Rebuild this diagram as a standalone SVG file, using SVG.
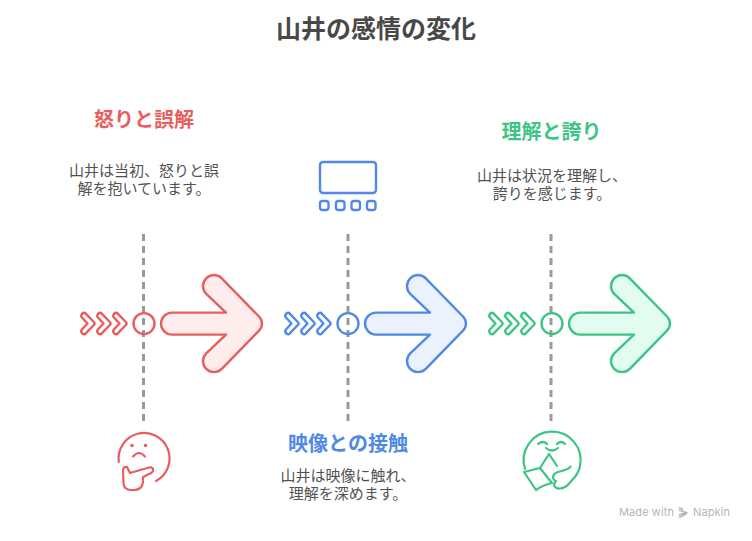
<svg xmlns="http://www.w3.org/2000/svg" width="752" height="541" viewBox="0 0 752 541">
<style>
text{font-family:"Noto Sans CJK JP","Noto Sans",sans-serif}
.t{font-size:15px;fill:#525252;text-anchor:middle}
.h{font-size:20px;font-weight:700;text-anchor:middle}
.d{stroke:#9a9a9a;stroke-width:3;stroke-dasharray:7 5;fill:none}
.r{stroke:#e85e5e;fill:none;stroke-width:2.4;stroke-linecap:round;stroke-linejoin:round}
.b{stroke:#5089e6;fill:none;stroke-width:2.4;stroke-linecap:round;stroke-linejoin:round}
.g{stroke:#3cc585;fill:none;stroke-width:2.4;stroke-linecap:round;stroke-linejoin:round}
.i{stroke-width:2.2}
.w{font-size:11px;fill:#b5b5b5;letter-spacing:.1px;font-family:"Inter",sans-serif}
</style>
<defs>
<path id="bigarrow" d="M-37 -11H17L-2.800 -29.700A11 11 0 0 1 12.800 -45.300L50 -7.100A10 10 0 0 1 50 7.100L12.800 45.300A11 11 0 0 1 -2.800 29.700L17 11H-37A11 11 0 0 1 -37 -11Z"/>
<path id="chev" d="M0 -10.500L2 -10.700L10.800 -1.500Q12.300 0 10.800 1.500L2 10.700L0 10.500Q-2.500 8.500 -1.500 6.500L4.500 0L-1.500 -6.500Q-2.500 -8.500 0 -10.500Z"/>
<g id="chevs"><use href="#chev" x="0"/><use href="#chev" x="16"/><use href="#chev" x="32"/></g>
</defs>
<rect width="752" height="541" fill="#fff"/>
<text x="376" y="38" style="font-size:25px;font-weight:700;fill:#484848;text-anchor:middle">山井の感情の変化</text>
<g id="connectors">
<path class="d" d="M143.500 234V421"/>
<path class="d" d="M348 234V421"/>
<path class="d" d="M551 234V421"/>
</g>
<g id="node-anger">
<text class="h" x="144" y="127" fill="#e85e5e">怒りと誤解</text>
<text class="t" x="144" y="176">山井は当初、怒りと誤</text>
<text class="t" x="144" y="194">解を抱いています。</text>
<use href="#chevs" x="83" y="323.500" class="r"/>
<circle cx="144" cy="323.600" r="10.500" class="r"/>
<use href="#bigarrow" x="209" y="323.600" class="r" style="fill:#ffecec"/>
<g class="r i">
<path d="M118.800 462A25.500 25.500 0 1 1 156 481"/>
<path d="M123 470Q124 466 127 467L130 473L149 467.500Q154 467 153 471Q152 473 149 474L143 477V482Q142 490 134 490H131Q124 490 123.500 483Z"/>
<path d="M133 456.500Q139 449.500 145 456.500"/>
</g>
<circle cx="132" cy="445.500" r="1.800" fill="#e85e5e"/><circle cx="145.500" cy="445.500" r="1.800" fill="#e85e5e"/>
</g>
<g id="node-contact">
<text class="h" x="348" y="451" fill="#5089e6">映像との接触</text>
<text class="t" x="348" y="481">山井は映像に触れ、</text>
<text class="t" x="348" y="499">理解を深めます。</text>
<rect x="320" y="162" width="56" height="31" rx="3" class="b"/>
<rect x="320" y="201" width="8.500" height="9" rx="2.500" class="b"/>
<rect x="336" y="201" width="8.500" height="9" rx="2.500" class="b"/>
<rect x="351.500" y="201" width="8.500" height="9" rx="2.500" class="b"/>
<rect x="367" y="201" width="8.500" height="9" rx="2.500" class="b"/>
<use href="#chevs" x="287" y="323.500" class="b"/>
<circle cx="348" cy="323.600" r="10.500" class="b"/>
<use href="#bigarrow" x="413" y="323.600" class="b" style="fill:#ebf2fe"/>
</g>
<g id="node-pride">
<text class="h" x="551.500" y="139" fill="#3cc585">理解と誇り</text>
<text class="t" x="552" y="181">山井は状況を理解し、</text>
<text class="t" x="552" y="199">誇りを感じます。</text>
<use href="#chevs" x="491" y="323.500" class="g"/>
<circle cx="552" cy="323.600" r="10.500" class="g"/>
<use href="#bigarrow" x="617" y="323.600" class="g" style="fill:#e3fcf0"/>
<g class="g i">
<path d="M525 469A28.500 28.500 0 1 1 580 466C579 472 576 476 573 479C569 484 566 488 560 488.500C555 489 552 485 556 481C551 479 553 473 558 472C563 471 568 470 570.500 466.700"/>
<path d="M524 472L540 468L552 483Q543 485 536 490Z"/>
<path d="M540 468L549 454L557 466"/>
<path d="M538 444Q543 440 547 444M557 444Q561 440 565 444"/>
<path d="M546 448Q552 453 558 448"/>
</g>
</g>
<g id="watermark">
<text x="619" y="516" class="w">Made with</text>
<path d="M679 507.500L683 509.500M679 510L686 512.500L679 515M679 517.500L687 513.500" fill="none" stroke="#b5b5b5" stroke-width="1.600"/>
<text x="693" y="516" class="w">Napkin</text>
</g>
</svg>
